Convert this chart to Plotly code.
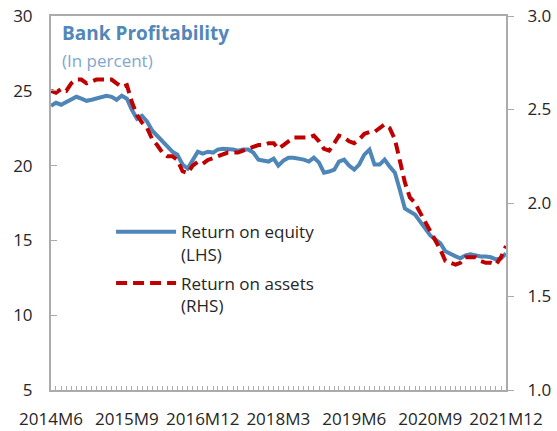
import plotly.graph_objects as go
import pandas as pd

# Monthly observations, 2014M6 .. 2021M12
months = pd.date_range("2014-06-01", "2021-12-01", freq="MS")

roe = [24.0, 24.2, 24.07, 24.27, 24.47, 24.6, 24.47, 24.33, 24.4, 24.47,
       24.53, 24.67, 24.6, 24.4, 24.67, 24.47, 23.73, 23.13, 23.33, 22.93,
       22.33, 22.0, 21.67, 21.27, 20.93, 20.73, 20.07, 19.8, 20.4, 20.93,
       20.8, 20.93, 20.87, 21.07, 21.13, 21.13, 21.07, 21.0, 21.07, 21.07,
       20.87, 20.4, 20.33, 20.27, 20.47, 20.0, 20.33, 20.53, 20.53, 20.47,
       20.4, 20.27, 20.53, 20.2, 19.53, 19.6, 19.73, 20.27, 20.4, 20.0,
       19.73, 20.07, 20.73, 21.07, 20.07, 20.07, 20.4, 19.93, 19.53, 18.4,
       17.13, 16.93, 16.73, 16.27, 15.8, 15.33, 15.07, 14.8, 14.27, 14.07,
       13.93, 13.8, 14.0, 14.07, 14.0, 13.93, 13.93, 13.87, 13.73, 13.8,
       14.13]

roa = [2.60, 2.59, 2.61, 2.60, 2.64, 2.66, 2.66, 2.64, 2.65, 2.66,
       2.66, 2.66, 2.66, 2.64, 2.62, 2.63, 2.54, 2.47, 2.43, 2.40,
       2.34, 2.31, 2.27, 2.25, 2.25, 2.23, 2.17, 2.16, 2.20, 2.22,
       2.21, 2.23, 2.24, 2.25, 2.26, 2.27, 2.27, 2.27, 2.28, 2.29,
       2.30, 2.31, 2.31, 2.32, 2.32, 2.29, 2.31, 2.33, 2.35, 2.35,
       2.35, 2.35, 2.36, 2.33, 2.29, 2.28, 2.32, 2.36, 2.35, 2.33,
       2.32, 2.34, 2.37, 2.38, 2.38, 2.40, 2.42, 2.40, 2.34, 2.23,
       2.11, 2.03, 2.00, 1.95, 1.90, 1.84, 1.80, 1.75, 1.69, 1.68,
       1.67, 1.68, 1.71, 1.71, 1.71, 1.69, 1.68, 1.68, 1.67, 1.71,
       1.77]

tick_labels = ["2014M6", "2015M9", "2016M12", "2018M3", "2019M6", "2020M9", "2021M12"]
tick_dates = [months[i] for i in range(0, len(months), 15)]

left_ticks = [5, 10, 15, 20, 25, 30]
right_ticks = [1.0, 1.5, 2.0, 2.5, 3.0]

BLUE = "#4F86B8"
RED = "#C00000"
GRID = "#ABABAB"
FONT = "Open Sans"
TXT = "#262626"

fig = go.Figure()
fig.add_trace(go.Scatter(
    x=months, y=roe, mode="lines", name="Return on equity<br>(LHS)",
    line=dict(color=BLUE, width=4), yaxis="y", legendgroup="a"))
fig.add_trace(go.Scatter(
    x=months, y=roa, mode="lines", name="Return on assets<br>(RHS)",
    line=dict(color=RED, width=4, dash="11px,6px"), yaxis="y2", legendgroup="b"))

fig.update_layout(
    width=557, height=431,
    margin=dict(l=51, r=51, t=16, b=41, autoexpand=False),
    paper_bgcolor="white", plot_bgcolor="white",
    font=dict(family=FONT, size=17, color=TXT),
    showlegend=True,
    legend=dict(x=0.132, y=0.47, xanchor="left", yanchor="top",
                bgcolor="rgba(0,0,0,0)", itemwidth=60, valign="top",
                tracegroupgap=4, font=dict(size=17, color=TXT)),
    xaxis=dict(
        type="date", automargin=False,
        range=[months[0], months[-1]],
        tickvals=tick_dates, ticktext=tick_labels,
        ticks="inside", ticklen=4, tickcolor=GRID, tickwidth=1,
        minor=dict(ticks="inside", dtick="M1", tick0=months[0], ticklen=4,
                   tickcolor=GRID, tickwidth=1, showgrid=False),
        showline=True, linecolor=GRID, linewidth=2, mirror=True,
        showgrid=False, zeroline=False,
        tickangle=0, tickfont=dict(size=17, color=TXT),
        ticklabelstandoff=13, ticklabeloverflow="allow",
    ),
    yaxis=dict(
        range=[5, 30], tickvals=left_ticks, automargin=False,
        ticks="inside", ticklen=6, tickcolor=GRID,
        showline=True, linecolor=GRID, linewidth=2,
        showgrid=False, zeroline=False,
        tickfont=dict(size=17, color=TXT),
        ticklabelstandoff=13, ticklabeloverflow="allow",
    ),
    yaxis2=dict(
        range=[1.0, 3.0], tickvals=right_ticks, tickformat=".1f",
        overlaying="y", side="right", automargin=False,
        ticks="outside", ticklen=6, tickcolor=GRID,
        showline=True, linecolor=GRID, linewidth=2,
        showgrid=False, zeroline=False,
        tickfont=dict(size=17, color=TXT),
        ticklabelstandoff=10, ticklabeloverflow="allow",
    ),
    annotations=[
        dict(text="<b>Bank Profitability</b>", x=0.02, y=0.9545,
             xref="paper", yref="paper", xanchor="left", yanchor="middle",
             showarrow=False, font=dict(family=FONT, size=19, color="#5287B9")),
        dict(text="(In percent)", x=0.02, y=0.882,
             xref="paper", yref="paper", xanchor="left", yanchor="middle",
             showarrow=False, font=dict(family=FONT, size=17, color="#7FA7CF")),
    ],
)

# remove the default page margin so the figure fills the window exactly
fig.write_html("out.html",
               config={"displayModeBar": False},
               post_script="document.body.style.margin='0';document.body.style.overflow='hidden';")
